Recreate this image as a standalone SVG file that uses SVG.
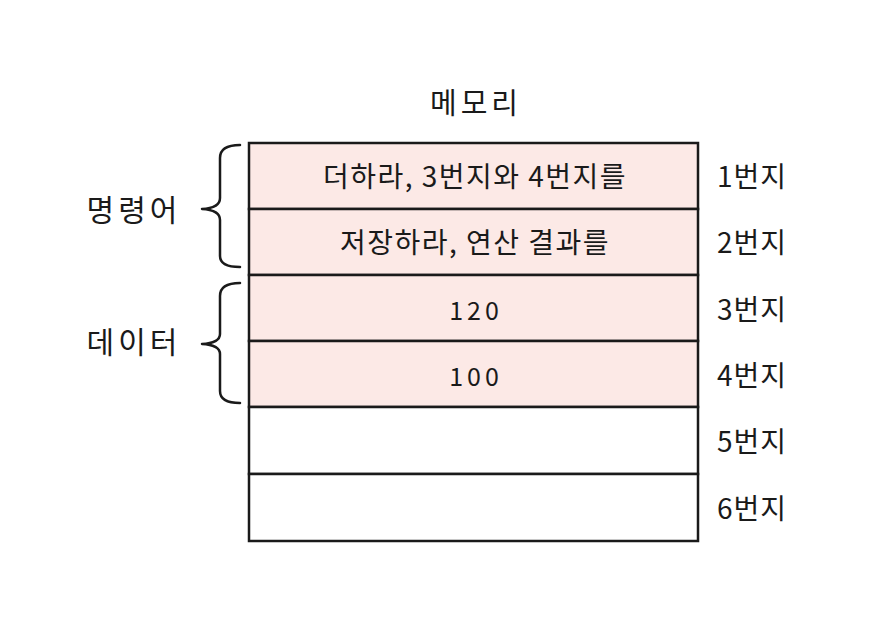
<svg xmlns="http://www.w3.org/2000/svg" width="881" height="626" viewBox="0 0 881 626">
<style>
text{font-family:"Noto Sans CJK KR","Noto Sans",sans-serif;fill:#1a1a1a;text-anchor:middle;dominant-baseline:central}
.cell{font-size:28px;letter-spacing:1.5px}
.num{font-size:25px;letter-spacing:4px}
.addr{font-size:28px;letter-spacing:1px}
.side{font-size:30px;letter-spacing:4px}
.pink{fill:#fce9e6;stroke:#1a1a1a;stroke-width:2.5}
.white{fill:#ffffff;stroke:#1a1a1a;stroke-width:2.5}
.brace{fill:none;stroke:#1a1a1a;stroke-width:2.5;stroke-linecap:round;stroke-linejoin:round}
</style>
<rect width="881" height="626" fill="#ffffff"/>
<text x="476" y="101" style="font-size:29px;letter-spacing:4px">메모리</text>
<g id="row1"><rect class="pink" x="249" y="143" width="449" height="66"/><text class="cell" x="475" y="175">더하라, 3번지와 4번지를</text><text class="addr" x="752" y="175">1번지</text></g>
<g id="row2"><rect class="pink" x="249" y="209" width="449" height="66"/><text class="cell" x="475" y="241">저장하라, 연산 결과를</text><text class="addr" x="752" y="241">2번지</text></g>
<g id="row3"><rect class="pink" x="249" y="275" width="449" height="66"/><text class="num" x="476" y="309">120</text><text class="addr" x="752" y="308">3번지</text></g>
<g id="row4"><rect class="pink" x="249" y="341" width="449" height="66"/><text class="num" x="476" y="375">100</text><text class="addr" x="752" y="374">4번지</text></g>
<g id="row5"><rect class="white" x="249" y="407" width="449" height="67"/><text class="addr" x="752" y="440">5번지</text></g>
<g id="row6"><rect class="white" x="249" y="474" width="449" height="67"/><text class="addr" x="752" y="507">6번지</text></g>
<g id="instr"><path class="brace" d="M240 145 Q220 145 220 158 L220 198 Q220 208 202 209 Q220 210 220 220 L220 256 Q220 267 240 267"/><text class="side" x="134" y="208">명령어</text></g>
<g id="data"><path class="brace" d="M240 283 Q220 283 220 296 L220 334 Q220 343 202 344 Q220 345 220 354 L220 391 Q220 403 240 403"/><text class="side" x="134" y="340">데이터</text></g>
</svg>
